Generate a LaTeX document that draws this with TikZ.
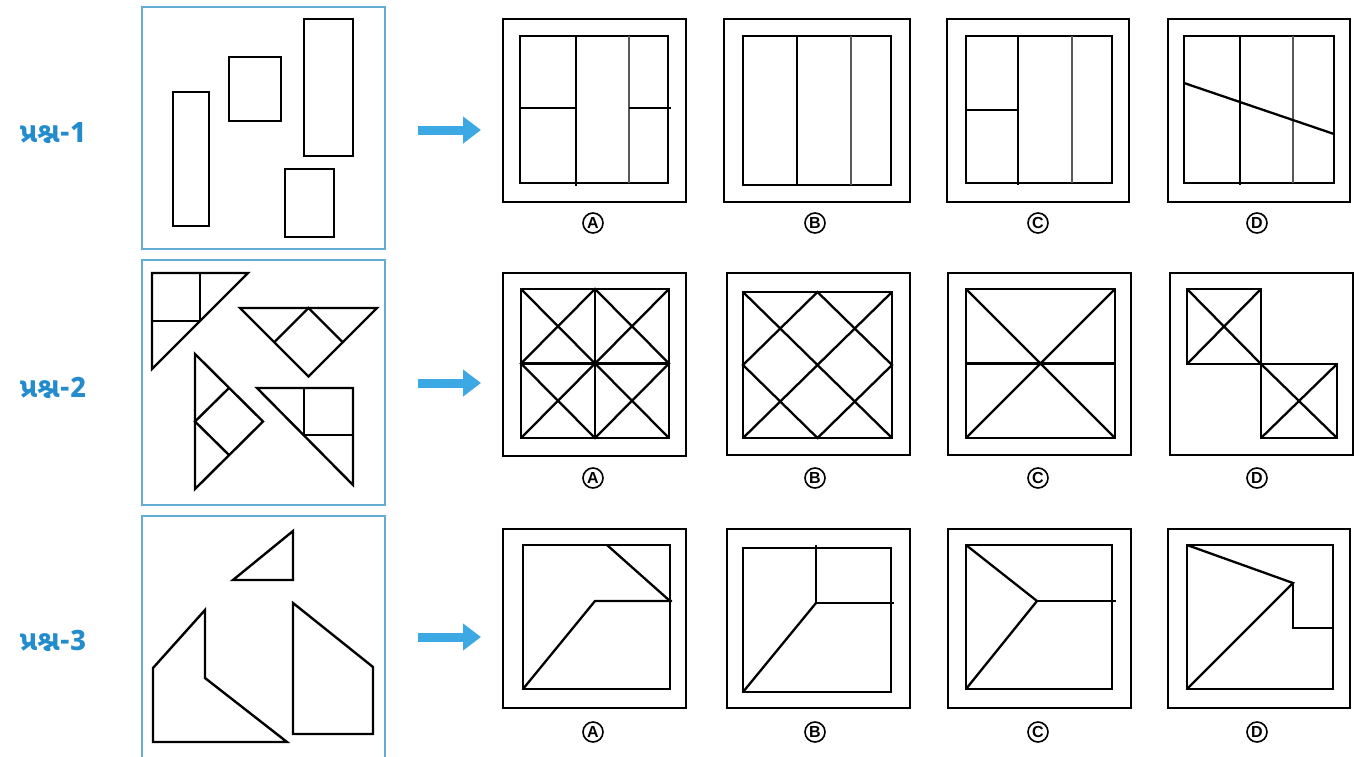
\documentclass[tikz,border=0pt]{standalone}
\usepackage{fontspec}
\newfontfamily\guj[Script=Gujarati]{Noto Sans Gujarati UI}
\setsansfont{Liberation Sans}
\usetikzlibrary{arrows.meta}
\definecolor{qblue}{RGB}{100,172,212}
\definecolor{lblue}{RGB}{35,140,205}
\definecolor{ablue}{RGB}{60,168,228}
\begin{document}
\begin{tikzpicture}[x=0.5pt,y=-0.5pt,line join=miter,
  qframe/.style={draw=qblue,line width=1pt},
  fig/.style={draw=black,line width=1.2pt},
  optline/.style={draw=black,line width=1.15pt},
  grayline/.style={draw=black!65,line width=1.15pt},
  qlabel/.style={text=lblue,font=\guj\bfseries\fontsize{14}{16}\selectfont,inner sep=0pt},
  letter/.style={circle,draw=black,line width=0.8pt,inner sep=0pt,minimum size=10pt,font=\sffamily\bfseries\fontsize{8}{9}\selectfont},
  bigarrow/.style={ablue,line width=4.5pt,-{Triangle[length=9pt,width=13pt]}}]
\useasboundingbox (0,0) rectangle (1372,756);

% ---------- question labels ----------
\node[qlabel] (l1) at (53,133) {પ્રશ્ન-1};
\node[qlabel] (l2) at (53,388) {પ્રશ્ન-2};
\node[qlabel] (l3) at (53,641) {પ્રશ્ન-3};

% ---------- question frames ----------
\draw[qframe] (142,7) rectangle (385,249);
\draw[qframe] (142,260) rectangle (385,505);
\draw[qframe] (142,516) rectangle (385,770);

% Q1 figures
\draw[fig] (173,92) rectangle (209,226);
\draw[fig] (229,57) rectangle (281,121);
\draw[fig] (304,19) rectangle (353,156);
\draw[fig] (285,169) rectangle (334,237);

% Q2 figures
\draw[fig] (152,273) -- (248,273) -- (152,369) -- cycle;
\draw[fig] (152,321) -- (200,321) -- (200,273);
\draw[fig] (240,308) -- (377,308) -- (308.5,376.5) -- cycle;
\draw[fig] (274.25,342.25) -- (308.5,308) -- (342.75,342.25);
\draw[fig] (195,354) -- (263,421.5) -- (195,489) -- cycle;
\draw[fig] (229,388) -- (195,421.5) -- (229,455);
\draw[fig] (257,388) -- (353,388) -- (353,485) -- cycle;
\draw[fig] (304,388) -- (304,435) -- (353,435);

% Q3 figures
\draw[fig] (233,580) -- (293,580) -- (293,531) -- cycle;
\draw[fig] (205,610) -- (205,678) -- (287,742) -- (153,742) -- (153,668) -- cycle;
\draw[fig] (293,603) -- (373,667) -- (373,734) -- (293,734) -- cycle;

% ---------- arrows ----------
\coordinate (a1s) at (418,130); \coordinate (a1e) at (481,130);
\coordinate (a2s) at (418,383); \coordinate (a2e) at (481,383);
\coordinate (a3s) at (418,637); \coordinate (a3e) at (481,637);
\draw[bigarrow] (a1s) -- (a1e);
\draw[bigarrow] (a2s) -- (a2e);
\draw[bigarrow] (a3s) -- (a3e);

% ---------- row 1 options ----------
% A
\draw[optline] (503,19) rectangle (686,202);
\draw[optline] (520,36) rectangle (668,183);
\draw[optline] (576,36) -- (576,186);
\draw[grayline] (629,36) -- (629,183);
\draw[optline] (520,108) -- (576,108);
\draw[optline] (629,108) -- (671,108);
% B
\draw[optline] (724,19) rectangle (910,202);
\draw[optline] (743,36) rectangle (891,185);
\draw[optline] (797,36) -- (797,185);
\draw[grayline] (851,36) -- (851,185);
% C
\draw[optline] (947,19) rectangle (1129,202);
\draw[optline] (966,36) rectangle (1112,183);
\draw[optline] (1018,36) -- (1018,185);
\draw[grayline] (1072,36) -- (1072,183);
\draw[optline] (966,110) -- (1018,110);
% D
\draw[optline] (1168,19) rectangle (1350,202);
\draw[optline] (1184,36) rectangle (1334,183);
\draw[optline] (1240,36) -- (1240,185);
\draw[grayline] (1293,36) -- (1293,183);
\draw[optline] (1184,83) -- (1334,134);

% ---------- row 2 options ----------
% A
\draw[optline] (503,273) rectangle (686,456);
\draw[optline] (521,289) rectangle (669,438);
\draw[optline] (521,289) -- (669,438) (669,289) -- (521,438);
\draw[optline] (595,289) -- (595,438) (521,363.5) -- (669,363.5);
\draw[optline] (595,289) -- (669,363.5) -- (595,438) -- (521,363.5) -- cycle;
% B
\draw[optline] (727,273) rectangle (910,455);
\draw[optline] (743,292) rectangle (892,438);
\draw[optline] (743,292) -- (892,438) (892,292) -- (743,438);
\draw[optline] (817.5,292) -- (892,365) -- (817.5,438) -- (743,365) -- cycle;
% C
\draw[optline] (948,273) rectangle (1131,455);
\draw[optline] (966,289) rectangle (1115,438);
\draw[optline] (966,289) -- (1115,438) (1115,289) -- (966,438);
\draw[optline] (966,363.5) -- (1115,363.5);
% D
\draw[optline] (1170,273) rectangle (1353,455);
\draw[optline] (1187,289) rectangle (1261,364);
\draw[optline] (1187,289) -- (1261,364) (1261,289) -- (1187,364);
\draw[optline] (1261,364) rectangle (1337,438);
\draw[optline] (1261,364) -- (1337,438) (1337,364) -- (1261,438);

% ---------- row 3 options ----------
% A
\draw[optline] (503,529) rectangle (686,708);
\draw[optline] (523,545) rectangle (670,689);
\draw[optline] (523,689) -- (595,601) -- (672,601);
\draw[optline] (607,545) -- (670,601);
% B
\draw[optline] (727,529) rectangle (910,708);
\draw[optline] (743,548) rectangle (891,692);
\draw[optline] (743,692) -- (816,603);
\draw[optline] (816,545) -- (816,603) -- (894,603);
% C
\draw[optline] (948,529) rectangle (1131,708);
\draw[optline] (966,545) rectangle (1112,689);
\draw[optline] (966,545) -- (1037,601) -- (966,689);
\draw[optline] (1037,601) -- (1116,601);
% D
\draw[optline] (1168,529) rectangle (1350,708);
\draw[optline] (1187,545) rectangle (1333,689);
\draw[optline] (1187,545) -- (1293,583) -- (1187,689);
\draw[optline] (1293,583) -- (1293,628) -- (1333,628);

% ---------- option letters ----------
\foreach \r/\yy in {1/223,2/478,3/732}{
  \node[letter] (o\r A) at (593,\yy) {A};
  \node[letter] (o\r B) at (815,\yy) {B};
  \node[letter] (o\r C) at (1038,\yy) {C};
  \node[letter] (o\r D) at (1257,\yy) {D};
}
\end{tikzpicture}
\end{document}
